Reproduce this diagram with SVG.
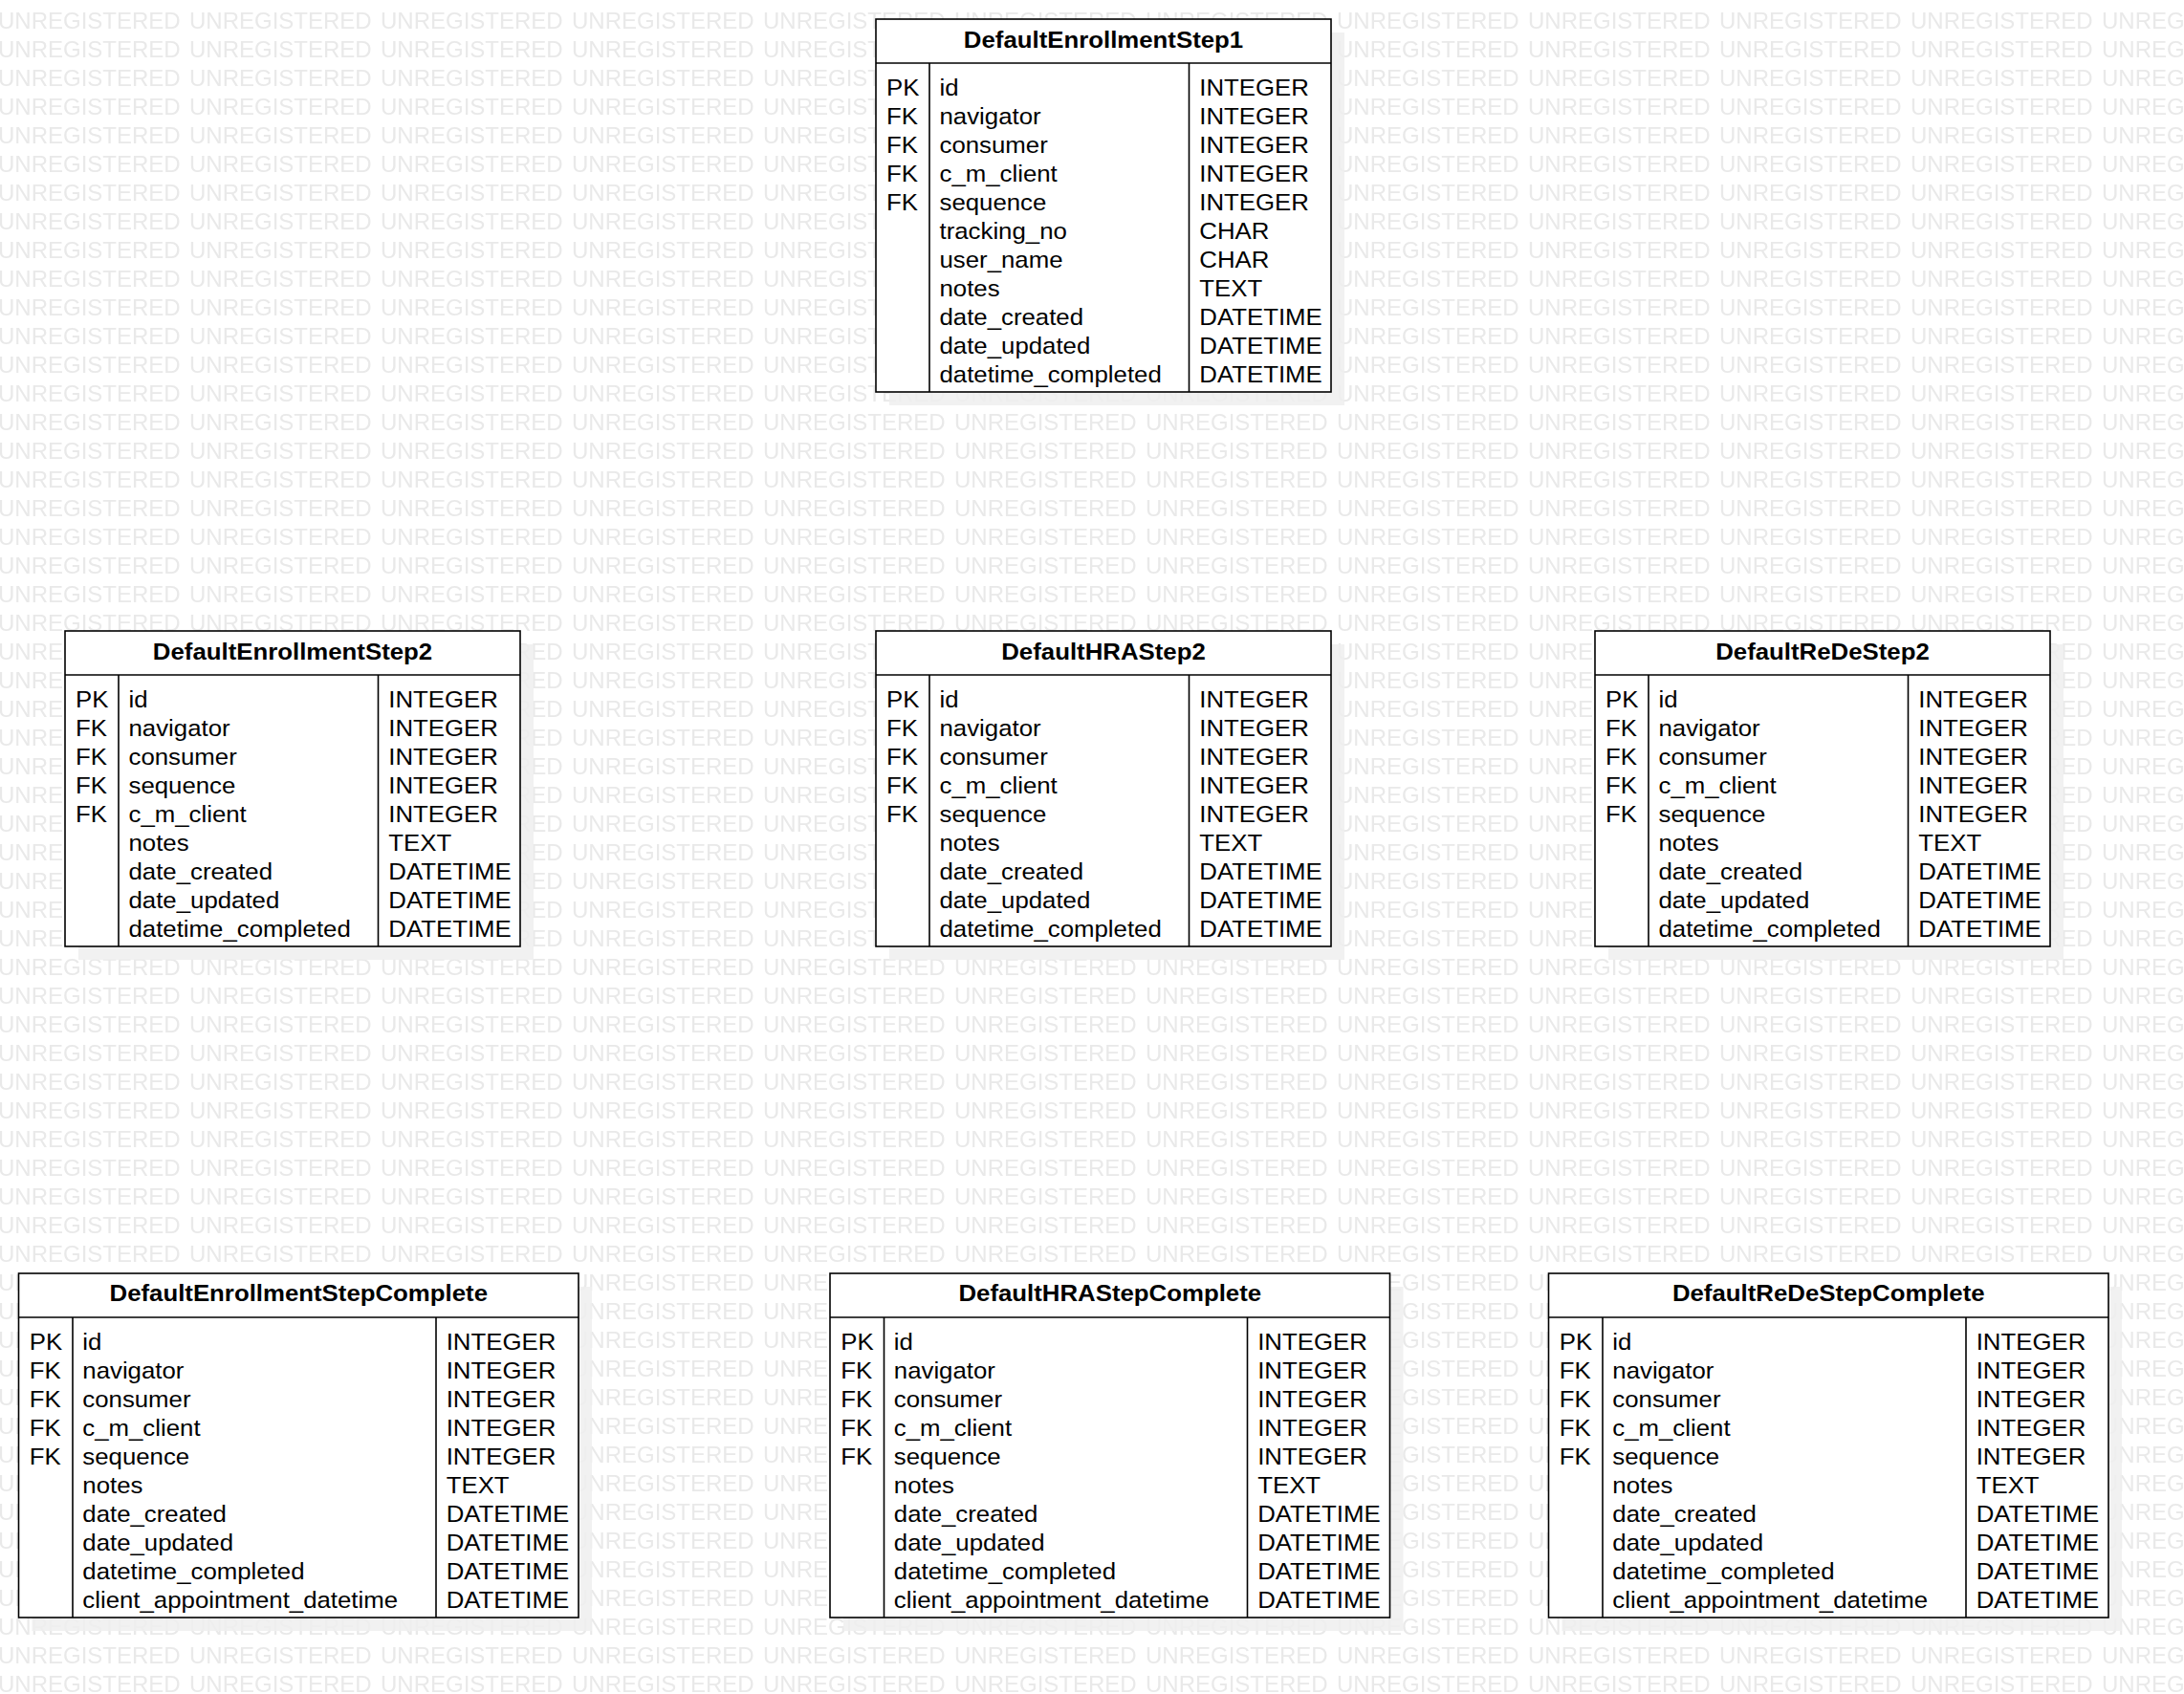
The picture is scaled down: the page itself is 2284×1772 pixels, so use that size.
<svg xmlns="http://www.w3.org/2000/svg" width="2284" height="1772" viewBox="0 0 2284 1772">
<style>
.t{font-family:"Liberation Sans",Arial,Helvetica,sans-serif;font-size:24px;fill:#000}
.h{font-weight:bold;text-anchor:middle}
.wm{font-family:"Liberation Sans",Arial,Helvetica,sans-serif;font-size:24px;fill:#e9e9e9}
.box{fill:#fff;stroke:#000;stroke-width:1.6}
.ln{stroke:#000;stroke-width:1.6;fill:none}
.sh{fill:#efefef;opacity:0.85}
</style>
<defs>
<pattern id="wm" patternUnits="userSpaceOnUse" x="-2" y="5" width="200" height="30">
<text class="wm" x="0" y="25">UNREGISTERED</text>
</pattern>
</defs>
<rect width="2284" height="1772" fill="#fff"/>
<rect width="2284" height="1772" fill="url(#wm)"/>

<g id="connectors"/>

<!-- DefaultEnrollmentStep1 -->
<g id="DefaultEnrollmentStep1" transform="translate(916,20)">
<rect class="sh" x="14" y="14" width="476" height="390"/>
<rect class="box" width="476" height="390"/>
<line class="ln" x1="0" y1="46" x2="476" y2="46"/>
<line class="ln" x1="56" y1="46" x2="56" y2="390"/>
<line class="ln" x1="327.5" y1="46" x2="327.5" y2="390"/>
<text class="t h" transform="translate(238,30) scale(1.075,1)">DefaultEnrollmentStep1</text>
<g class="t" transform="translate(11,0) scale(1.075,1)">
<text y="80">PK</text><text y="110">FK</text><text y="140">FK</text><text y="170">FK</text><text y="200">FK</text>
</g>
<g class="t" transform="translate(66.5,0) scale(1.075,1)">
<text y="80">id</text><text y="110">navigator</text><text y="140">consumer</text><text y="170">c_m_client</text><text y="200">sequence</text><text y="230">tracking_no</text><text y="260">user_name</text><text y="290">notes</text><text y="320">date_created</text><text y="350">date_updated</text><text y="380">datetime_completed</text>
</g>
<g class="t" transform="translate(338.3,0) scale(1.075,1)">
<text y="80">INTEGER</text><text y="110">INTEGER</text><text y="140">INTEGER</text><text y="170">INTEGER</text><text y="200">INTEGER</text><text y="230">CHAR</text><text y="260">CHAR</text><text y="290">TEXT</text><text y="320">DATETIME</text><text y="350">DATETIME</text><text y="380">DATETIME</text>
</g>
</g>

<!-- DefaultEnrollmentStep2 -->
<g id="DefaultEnrollmentStep2" transform="translate(68,660)">
<rect class="sh" x="14" y="14" width="476" height="330"/>
<rect class="box" width="476" height="330"/>
<line class="ln" x1="0" y1="46" x2="476" y2="46"/>
<line class="ln" x1="56" y1="46" x2="56" y2="330"/>
<line class="ln" x1="327.5" y1="46" x2="327.5" y2="330"/>
<text class="t h" transform="translate(238,30) scale(1.075,1)">DefaultEnrollmentStep2</text>
<g class="t" transform="translate(11,0) scale(1.075,1)">
<text y="80">PK</text><text y="110">FK</text><text y="140">FK</text><text y="170">FK</text><text y="200">FK</text>
</g>
<g class="t" transform="translate(66.5,0) scale(1.075,1)">
<text y="80">id</text><text y="110">navigator</text><text y="140">consumer</text><text y="170">sequence</text><text y="200">c_m_client</text><text y="230">notes</text><text y="260">date_created</text><text y="290">date_updated</text><text y="320">datetime_completed</text>
</g>
<g class="t" transform="translate(338.3,0) scale(1.075,1)">
<text y="80">INTEGER</text><text y="110">INTEGER</text><text y="140">INTEGER</text><text y="170">INTEGER</text><text y="200">INTEGER</text><text y="230">TEXT</text><text y="260">DATETIME</text><text y="290">DATETIME</text><text y="320">DATETIME</text>
</g>
</g>

<!-- DefaultHRAStep2 -->
<g id="DefaultHRAStep2" transform="translate(916,660)">
<rect class="sh" x="14" y="14" width="476" height="330"/>
<rect class="box" width="476" height="330"/>
<line class="ln" x1="0" y1="46" x2="476" y2="46"/>
<line class="ln" x1="56" y1="46" x2="56" y2="330"/>
<line class="ln" x1="327.5" y1="46" x2="327.5" y2="330"/>
<text class="t h" transform="translate(238,30) scale(1.075,1)">DefaultHRAStep2</text>
<g class="t" transform="translate(11,0) scale(1.075,1)">
<text y="80">PK</text><text y="110">FK</text><text y="140">FK</text><text y="170">FK</text><text y="200">FK</text>
</g>
<g class="t" transform="translate(66.5,0) scale(1.075,1)">
<text y="80">id</text><text y="110">navigator</text><text y="140">consumer</text><text y="170">c_m_client</text><text y="200">sequence</text><text y="230">notes</text><text y="260">date_created</text><text y="290">date_updated</text><text y="320">datetime_completed</text>
</g>
<g class="t" transform="translate(338.3,0) scale(1.075,1)">
<text y="80">INTEGER</text><text y="110">INTEGER</text><text y="140">INTEGER</text><text y="170">INTEGER</text><text y="200">INTEGER</text><text y="230">TEXT</text><text y="260">DATETIME</text><text y="290">DATETIME</text><text y="320">DATETIME</text>
</g>
</g>

<!-- DefaultReDeStep2 -->
<g id="DefaultReDeStep2" transform="translate(1668,660)">
<rect class="sh" x="14" y="14" width="476" height="330"/>
<rect class="box" width="476" height="330"/>
<line class="ln" x1="0" y1="46" x2="476" y2="46"/>
<line class="ln" x1="56" y1="46" x2="56" y2="330"/>
<line class="ln" x1="327.5" y1="46" x2="327.5" y2="330"/>
<text class="t h" transform="translate(238,30) scale(1.075,1)">DefaultReDeStep2</text>
<g class="t" transform="translate(11,0) scale(1.075,1)">
<text y="80">PK</text><text y="110">FK</text><text y="140">FK</text><text y="170">FK</text><text y="200">FK</text>
</g>
<g class="t" transform="translate(66.5,0) scale(1.075,1)">
<text y="80">id</text><text y="110">navigator</text><text y="140">consumer</text><text y="170">c_m_client</text><text y="200">sequence</text><text y="230">notes</text><text y="260">date_created</text><text y="290">date_updated</text><text y="320">datetime_completed</text>
</g>
<g class="t" transform="translate(338.3,0) scale(1.075,1)">
<text y="80">INTEGER</text><text y="110">INTEGER</text><text y="140">INTEGER</text><text y="170">INTEGER</text><text y="200">INTEGER</text><text y="230">TEXT</text><text y="260">DATETIME</text><text y="290">DATETIME</text><text y="320">DATETIME</text>
</g>
</g>

<!-- DefaultEnrollmentStepComplete -->
<g id="DefaultEnrollmentStepComplete" transform="translate(19.5,1332)">
<rect class="sh" x="14" y="14" width="585.5" height="360"/>
<rect class="box" width="585.5" height="360"/>
<line class="ln" x1="0" y1="46" x2="585.5" y2="46"/>
<line class="ln" x1="56.5" y1="46" x2="56.5" y2="360"/>
<line class="ln" x1="436.5" y1="46" x2="436.5" y2="360"/>
<text class="t h" transform="translate(292.75,29) scale(1.075,1)">DefaultEnrollmentStepComplete</text>
<g class="t" transform="translate(11.3,0) scale(1.075,1)">
<text y="80">PK</text><text y="110">FK</text><text y="140">FK</text><text y="170">FK</text><text y="200">FK</text>
</g>
<g class="t" transform="translate(66.8,0) scale(1.075,1)">
<text y="80">id</text><text y="110">navigator</text><text y="140">consumer</text><text y="170">c_m_client</text><text y="200">sequence</text><text y="230">notes</text><text y="260">date_created</text><text y="290">date_updated</text><text y="320">datetime_completed</text><text y="350">client_appointment_datetime</text>
</g>
<g class="t" transform="translate(447.2,0) scale(1.075,1)">
<text y="80">INTEGER</text><text y="110">INTEGER</text><text y="140">INTEGER</text><text y="170">INTEGER</text><text y="200">INTEGER</text><text y="230">TEXT</text><text y="260">DATETIME</text><text y="290">DATETIME</text><text y="320">DATETIME</text><text y="350">DATETIME</text>
</g>
</g>

<!-- DefaultHRAStepComplete -->
<g id="DefaultHRAStepComplete" transform="translate(868,1332)">
<rect class="sh" x="14" y="14" width="585.5" height="360"/>
<rect class="box" width="585.5" height="360"/>
<line class="ln" x1="0" y1="46" x2="585.5" y2="46"/>
<line class="ln" x1="56.5" y1="46" x2="56.5" y2="360"/>
<line class="ln" x1="436.5" y1="46" x2="436.5" y2="360"/>
<text class="t h" transform="translate(292.75,29) scale(1.075,1)">DefaultHRAStepComplete</text>
<g class="t" transform="translate(11.3,0) scale(1.075,1)">
<text y="80">PK</text><text y="110">FK</text><text y="140">FK</text><text y="170">FK</text><text y="200">FK</text>
</g>
<g class="t" transform="translate(66.8,0) scale(1.075,1)">
<text y="80">id</text><text y="110">navigator</text><text y="140">consumer</text><text y="170">c_m_client</text><text y="200">sequence</text><text y="230">notes</text><text y="260">date_created</text><text y="290">date_updated</text><text y="320">datetime_completed</text><text y="350">client_appointment_datetime</text>
</g>
<g class="t" transform="translate(447.2,0) scale(1.075,1)">
<text y="80">INTEGER</text><text y="110">INTEGER</text><text y="140">INTEGER</text><text y="170">INTEGER</text><text y="200">INTEGER</text><text y="230">TEXT</text><text y="260">DATETIME</text><text y="290">DATETIME</text><text y="320">DATETIME</text><text y="350">DATETIME</text>
</g>
</g>

<!-- DefaultReDeStepComplete -->
<g id="DefaultReDeStepComplete" transform="translate(1619.5,1332)">
<rect class="sh" x="14" y="14" width="585.5" height="360"/>
<rect class="box" width="585.5" height="360"/>
<line class="ln" x1="0" y1="46" x2="585.5" y2="46"/>
<line class="ln" x1="56.5" y1="46" x2="56.5" y2="360"/>
<line class="ln" x1="436.5" y1="46" x2="436.5" y2="360"/>
<text class="t h" transform="translate(292.75,29) scale(1.075,1)">DefaultReDeStepComplete</text>
<g class="t" transform="translate(11.3,0) scale(1.075,1)">
<text y="80">PK</text><text y="110">FK</text><text y="140">FK</text><text y="170">FK</text><text y="200">FK</text>
</g>
<g class="t" transform="translate(66.8,0) scale(1.075,1)">
<text y="80">id</text><text y="110">navigator</text><text y="140">consumer</text><text y="170">c_m_client</text><text y="200">sequence</text><text y="230">notes</text><text y="260">date_created</text><text y="290">date_updated</text><text y="320">datetime_completed</text><text y="350">client_appointment_datetime</text>
</g>
<g class="t" transform="translate(447.2,0) scale(1.075,1)">
<text y="80">INTEGER</text><text y="110">INTEGER</text><text y="140">INTEGER</text><text y="170">INTEGER</text><text y="200">INTEGER</text><text y="230">TEXT</text><text y="260">DATETIME</text><text y="290">DATETIME</text><text y="320">DATETIME</text><text y="350">DATETIME</text>
</g>
</g>
</svg>
